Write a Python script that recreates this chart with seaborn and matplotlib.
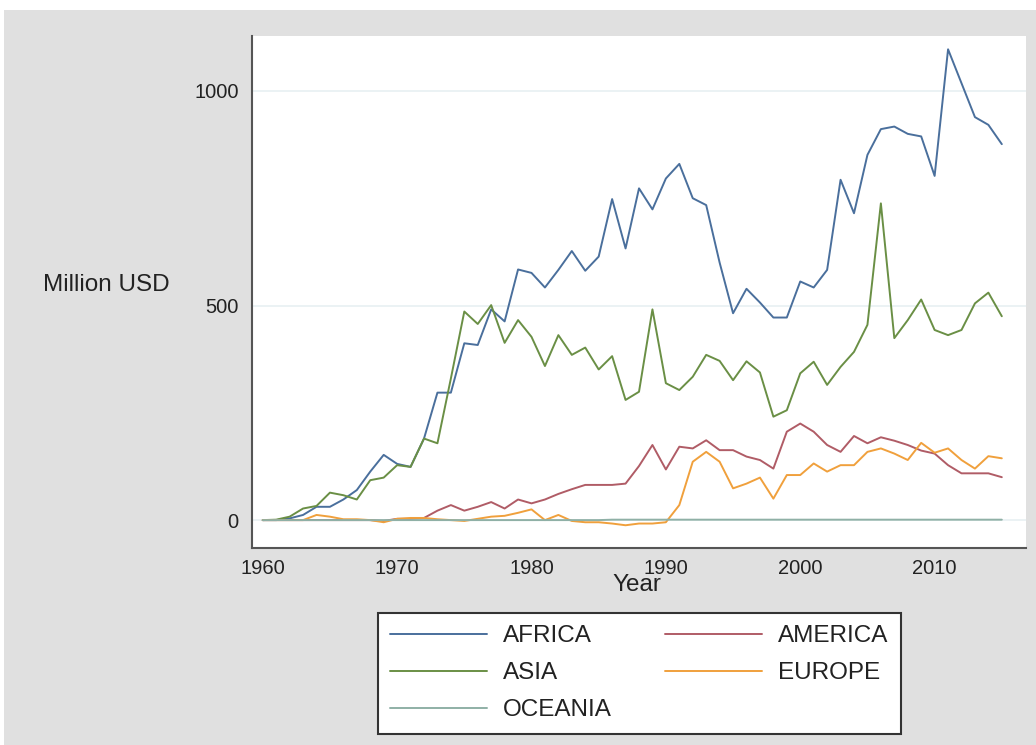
import matplotlib
matplotlib.use("Agg")
import matplotlib.pyplot as plt
from matplotlib.patches import Rectangle
from matplotlib.lines import Line2D
import numpy as np
import pandas as pd
import seaborn as sns

years = list(range(1960, 2016))

africa = [0, 0, 4, 12, 31, 31, 48, 70, 113, 152,
          131, 124, 190, 297, 297, 412, 408, 491, 463, 584,
          576, 542, 583, 627, 581, 614, 748, 633, 773, 724,
          796, 830, 750, 734, 600, 482, 539, 507, 472, 472,
          556, 542, 583, 793, 715, 851, 911, 917, 900, 894,
          802, 1097, 1018, 939, 921, 876]
asia = [0, 1, 8, 27, 33, 64, 58, 48, 93, 99,
        128, 124, 190, 179, 330, 486, 457, 501, 413, 466,
        427, 359, 431, 385, 402, 351, 382, 280, 299, 491,
        319, 303, 334, 385, 371, 326, 370, 344, 241, 256,
        342, 369, 315, 357, 392, 455, 738, 424, 466, 514,
        443, 431, 443, 505, 530, 475]
america = [0, 0, 0, 0, 0, 0, 0, 0, 0, -2,
           3, 3, 5, 22, 35, 22, 31, 42, 27, 48,
           39, 48, 61, 72, 82, 82, 82, 85, 126, 175,
           118, 171, 167, 186, 163, 163, 148, 140, 120, 206,
           225, 206, 175, 159, 196, 179, 193, 185, 175, 162,
           155, 128, 109, 109, 109, 100]
europe = [0, 0, 0, 0, 12, 8, 2, 2, 0, -5,
          3, 5, 5, 2, 0, -2, 3, 8, 10, 17,
          25, 0, 12, -2, -5, -5, -8, -12, -8, -8,
          -5, 35, 136, 159, 136, 74, 85, 99, 50, 105,
          105, 132, 113, 128, 128, 159, 167, 155, 140, 180,
          157, 167, 140, 120, 149, 144]
oceania = [0, 0, 0, 0, 0, 0, 0, 0, 0, 0,
           0, 0, 0, 0, 0, 0, 0, 0, 0, 0,
           0, 0, 0, 0, 0, 0, 1, 1, 1, 1,
           1, 1, 1, 1, 1, 1, 1, 1, 1, 1,
           1, 1, 1, 1, 1, 1, 1, 1, 1, 1,
           1, 1, 1, 1, 1, 1]

regions = ["AFRICA", "AMERICA", "ASIA", "EUROPE", "OCEANIA"]
colors = {"AFRICA": "#4a6f9c", "AMERICA": "#b05c66", "ASIA": "#6a8f45",
          "EUROPE": "#f0a03c", "OCEANIA": "#8fb0a6"}
yticks = [0, 500, 1000]
xticks = [1960, 1970, 1980, 1990, 2000, 2010]

series = {"AFRICA": africa, "AMERICA": america, "ASIA": asia,
          "EUROPE": europe, "OCEANIA": oceania}
df = pd.concat([pd.DataFrame({"year": years, "value": v, "region": k})
                for k, v in series.items()], ignore_index=True)

sns.set_style("white")
plt.rcParams["font.family"] = ["Liberation Sans", "DejaVu Sans"]

fig = plt.figure(figsize=(10.36, 7.45), dpi=100, facecolor="white")
fig.patches.append(Rectangle((4 / 1036, 0), 1, 735 / 745, transform=fig.transFigure,
                             facecolor="#e0e0e0", edgecolor="none", zorder=-10))
ax = fig.add_axes([252 / 1036, 1 - 548 / 745, (1026 - 252) / 1036, (548 - 36) / 745])
ax.set_facecolor("white")

for y in yticks:
    ax.axhline(y, color="#e9f1f3", lw=1.3, zorder=0)

sns.lineplot(data=df, x="year", y="value", hue="region", hue_order=regions,
             palette=colors, lw=1.4, ax=ax, legend=False)

ax.set_xlim(1959.2, 2016.8)
ax.set_ylim(-65, 1128)
ax.set_xticks(xticks)
ax.set_yticks(yticks)
for s in ["top", "right"]:
    ax.spines[s].set_visible(False)
for s in ["left", "bottom"]:
    ax.spines[s].set_color("#555555")
    ax.spines[s].set_linewidth(1.5)
ax.tick_params(axis="both", direction="out", length=6, width=1.2, color="#555555",
               labelsize=14.5, labelcolor="#222222")
ax.tick_params(axis="x", pad=2)

ax.set_xlabel("Year", fontsize=17.5, color="#222222")
ax.xaxis.set_label_coords(0.497, -0.073)
ax.xaxis.label.set_va("center")
ax.set_ylabel("Million USD", fontsize=17.5, color="#222222", rotation=0)
ax.yaxis.set_label_coords(-0.1886, 0.514)
ax.yaxis.label.set_va("center")
ax.yaxis.label.set_ha("center")

order = ["AFRICA", "ASIA", "OCEANIA", "AMERICA", "EUROPE"]
handles = [Line2D([], [], color=colors[r], lw=1.4) for r in order]
leg = fig.legend(handles, order, loc="upper center", bbox_to_anchor=(0.617, 0.177),
                 ncol=2, fontsize=17.5, frameon=True, fancybox=False,
                 handlelength=4.0, handletextpad=0.65, columnspacing=2.2,
                 labelspacing=0.62, borderpad=0.5, borderaxespad=0)
leg.get_frame().set_edgecolor("#333333")
leg.get_frame().set_facecolor("white")
leg.get_frame().set_alpha(1)
leg.get_frame().set_linewidth(1.5)
for t in leg.get_texts():
    t.set_color("#222222")

fig.savefig("out.png", dpi=100, facecolor=fig.get_facecolor())
